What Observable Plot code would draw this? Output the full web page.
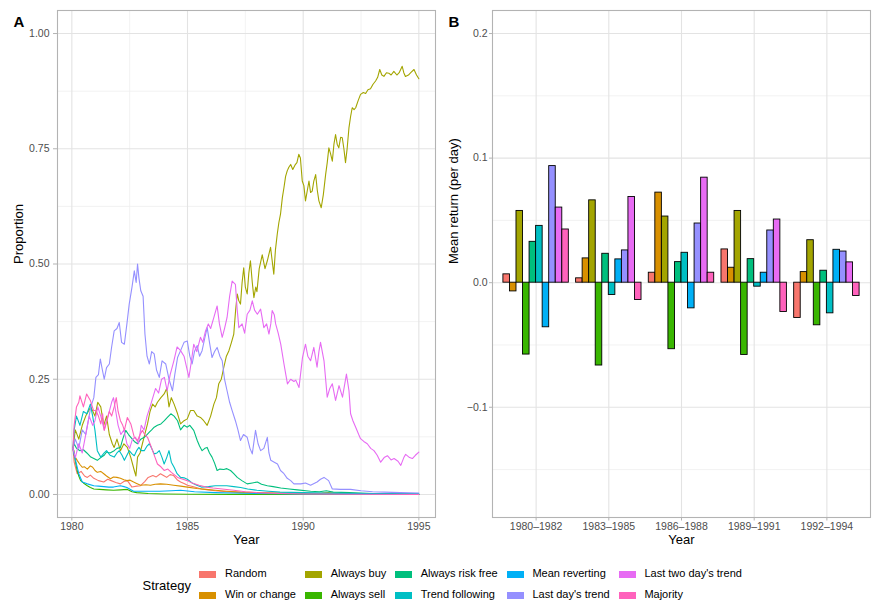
<!DOCTYPE html>
<html>
<head>
<meta charset="utf-8">
<script src="https://cdn.jsdelivr.net/npm/d3@7"></script>
<script src="https://cdn.jsdelivr.net/npm/@observablehq/plot@0.6"></script>
<style>
  body { margin: 0; background: #fff; font-family: "Liberation Sans", Arial, sans-serif; }
  #wrap { position: relative; width: 875px; height: 606px; overflow: hidden; background: #fff; }
  #pa { position: absolute; left: 0; top: 0; }
  #pb { position: absolute; left: 440px; top: 0; }
  .lg-title { position: absolute; font-size: 13px; color: #000; line-height: 13px; }
  .lg-key { position: absolute; width: 17px; height: 7px; }
  .lg-text { position: absolute; font-size: 11px; color: #000; line-height: 11px; white-space: nowrap; }
</style>
</head>
<body>
<div id="wrap">
  <div id="pa"></div>
  <div id="pb"></div>
</div>
<script>
// ---------- Categories ----------
const strategies = ["Random", "Win or change", "Always buy", "Always sell", "Always risk free",
  "Trend following", "Mean reverting", "Last day's trend", "Last two day's trend", "Majority"];
const strategyColors = ["#F8766D", "#D89000", "#A3A500", "#39B600", "#00BF7D",
  "#00BFC4", "#00B0F6", "#9590FF", "#E76BF3", "#FF62BC"];
const periods = ["1980\u20131982", "1983\u20131985", "1986\u20131988", "1989\u20131991", "1992\u20131994"];

// ---------- Panel A: proportion over time, [year, proportion] ----------
const propRandom = [[1980.05,0.10],[1980.1,0.07],[1980.23,0.045],[1980.4,0.05],[1980.55,0.04],[1980.67,0.037],[1980.8,0.042],[1980.95,0.035],[1981.15,0.03],[1981.38,0.027],[1981.55,0.033],[1981.7,0.03],[1981.9,0.026],[1982.1,0.023],[1982.25,0.028],[1982.4,0.03],[1982.6,0.016],[1982.8,0.018],[1982.97,0.019],[1983.15,0.028],[1983.3,0.037],[1983.5,0.041],[1983.65,0.038],[1983.83,0.045],[1984.0,0.04],[1984.1,0.037],[1984.25,0.043],[1984.4,0.041],[1984.55,0.032],[1984.7,0.027],[1984.85,0.024],[1985.0,0.02],[1985.3,0.016],[1985.6,0.012],[1985.9,0.01],[1986.2,0.008],[1986.7,0.006],[1987.3,0.004],[1988.0,0.003],[1989.0,0.002],[1990.0,0.0015],[1992.0,0.001],[1995.0,0.0005]];
const propWinOrChange = [[1980.05,0.10],[1980.1,0.085],[1980.23,0.074],[1980.35,0.065],[1980.45,0.059],[1980.55,0.06],[1980.67,0.055],[1980.8,0.062],[1980.9,0.059],[1981.0,0.052],[1981.1,0.048],[1981.25,0.05],[1981.38,0.045],[1981.5,0.04],[1981.67,0.034],[1981.8,0.038],[1981.95,0.037],[1982.1,0.035],[1982.25,0.032],[1982.38,0.03],[1982.52,0.031],[1982.67,0.027],[1982.8,0.024],[1982.97,0.02],[1983.2,0.021],[1983.4,0.02],[1983.6,0.022],[1983.83,0.023],[1984.1,0.022],[1984.4,0.02],[1984.7,0.018],[1985.0,0.016],[1985.4,0.013],[1985.8,0.011],[1986.2,0.009],[1986.7,0.007],[1987.3,0.005],[1988.0,0.004],[1989.0,0.003],[1990.0,0.002],[1990.8,0.003],[1991.1,0.004],[1991.5,0.002],[1993.0,0.001],[1995.0,0.0005]];
const propAlwaysBuy = [[1980.05,0.10],[1980.15,0.14],[1980.3,0.12],[1980.45,0.15],[1980.6,0.17],[1980.82,0.19],[1981.0,0.17],[1981.12,0.20],[1981.25,0.19],[1981.38,0.15],[1981.5,0.17],[1981.62,0.13],[1981.75,0.11],[1981.83,0.102],[1981.95,0.12],[1982.1,0.095],[1982.25,0.11],[1982.4,0.102],[1982.55,0.08],[1982.7,0.052],[1982.77,0.04],[1982.84,0.081],[1982.95,0.09],[1983.05,0.11],[1983.15,0.13],[1983.27,0.153],[1983.38,0.18],[1983.49,0.196],[1983.6,0.19],[1983.7,0.2],[1983.85,0.21],[1983.99,0.218],[1984.1,0.23],[1984.2,0.19],[1984.3,0.21],[1984.42,0.196],[1984.57,0.175],[1984.7,0.153],[1984.85,0.16],[1984.99,0.164],[1985.13,0.182],[1985.27,0.182],[1985.42,0.17],[1985.56,0.167],[1985.7,0.16],[1985.85,0.15],[1986.0,0.17],[1986.14,0.196],[1986.25,0.21],[1986.35,0.24],[1986.46,0.25],[1986.57,0.276],[1986.68,0.30],[1986.79,0.312],[1986.9,0.33],[1987.0,0.348],[1987.08,0.40],[1987.15,0.435],[1987.22,0.42],[1987.29,0.413],[1987.36,0.46],[1987.43,0.492],[1987.5,0.45],[1987.58,0.435],[1987.65,0.48],[1987.72,0.507],[1987.8,0.46],[1987.87,0.427],[1987.95,0.45],[1988.0,0.44],[1988.1,0.49],[1988.23,0.52],[1988.35,0.49],[1988.45,0.507],[1988.59,0.536],[1988.73,0.478],[1988.8,0.53],[1988.88,0.565],[1988.95,0.59],[1989.02,0.608],[1989.1,0.644],[1989.17,0.666],[1989.24,0.69],[1989.31,0.702],[1989.38,0.71],[1989.46,0.716],[1989.55,0.705],[1989.65,0.715],[1989.73,0.72],[1989.81,0.738],[1989.88,0.73],[1989.96,0.68],[1990.03,0.67],[1990.1,0.637],[1990.18,0.66],[1990.25,0.68],[1990.32,0.655],[1990.39,0.658],[1990.46,0.68],[1990.54,0.694],[1990.61,0.66],[1990.68,0.637],[1990.78,0.622],[1990.87,0.65],[1990.97,0.694],[1991.04,0.72],[1991.11,0.752],[1991.18,0.74],[1991.26,0.723],[1991.33,0.76],[1991.4,0.781],[1991.47,0.76],[1991.54,0.752],[1991.62,0.775],[1991.69,0.774],[1991.76,0.75],[1991.83,0.72],[1991.9,0.75],[1991.98,0.796],[1992.05,0.82],[1992.12,0.839],[1992.2,0.835],[1992.27,0.839],[1992.38,0.855],[1992.48,0.868],[1992.6,0.872],[1992.7,0.87],[1992.8,0.878],[1992.91,0.88],[1993.02,0.89],[1993.13,0.897],[1993.22,0.905],[1993.31,0.922],[1993.4,0.91],[1993.49,0.907],[1993.6,0.915],[1993.7,0.914],[1993.8,0.91],[1993.92,0.918],[1994.05,0.91],[1994.15,0.915],[1994.28,0.929],[1994.35,0.915],[1994.42,0.907],[1994.55,0.91],[1994.65,0.915],[1994.79,0.922],[1994.9,0.91],[1995.0,0.902]];
const propAlwaysSell = [[1980.05,0.10],[1980.09,0.095],[1980.16,0.07],[1980.23,0.052],[1980.3,0.04],[1980.38,0.03],[1980.5,0.025],[1980.67,0.019],[1980.8,0.015],[1980.95,0.012],[1981.2,0.011],[1981.5,0.01],[1981.8,0.009],[1982.1,0.01],[1982.4,0.011],[1982.6,0.006],[1982.8,0.004],[1983.3,0.002],[1984.0,0.001],[1985.0,0.0005],[1987.0,0.0002],[1995.0,0.0]];
const propAlwaysRiskFree = [[1980.05,0.10],[1980.1,0.11],[1980.2,0.10],[1980.35,0.095],[1980.5,0.097],[1980.65,0.09],[1980.82,0.081],[1980.95,0.078],[1981.1,0.074],[1981.25,0.08],[1981.4,0.085],[1981.5,0.092],[1981.65,0.09],[1981.83,0.095],[1981.95,0.10],[1982.1,0.102],[1982.2,0.12],[1982.33,0.139],[1982.45,0.13],[1982.55,0.124],[1982.7,0.115],[1982.84,0.11],[1982.98,0.12],[1983.13,0.124],[1983.25,0.13],[1983.35,0.135],[1983.45,0.14],[1983.56,0.146],[1983.7,0.15],[1983.85,0.153],[1984.0,0.16],[1984.13,0.167],[1984.28,0.175],[1984.42,0.17],[1984.57,0.16],[1984.7,0.14],[1984.85,0.15],[1984.99,0.146],[1985.1,0.15],[1985.27,0.139],[1985.42,0.117],[1985.52,0.105],[1985.63,0.095],[1985.75,0.10],[1985.85,0.102],[1985.95,0.09],[1986.06,0.081],[1986.17,0.068],[1986.28,0.052],[1986.4,0.055],[1986.57,0.054],[1986.7,0.056],[1986.86,0.052],[1987.0,0.045],[1987.15,0.037],[1987.35,0.03],[1987.58,0.023],[1987.8,0.025],[1988.02,0.027],[1988.2,0.022],[1988.45,0.019],[1988.7,0.017],[1989.03,0.014],[1989.4,0.012],[1989.75,0.01],[1990.32,0.007],[1990.7,0.006],[1991.0,0.008],[1991.3,0.005],[1992.0,0.004],[1993.0,0.002],[1994.0,0.0015],[1995.0,0.001]];
const propTrendFollowing = [[1980.05,0.10],[1980.1,0.14],[1980.2,0.17],[1980.35,0.15],[1980.5,0.18],[1980.65,0.175],[1980.8,0.196],[1980.9,0.17],[1981.0,0.139],[1981.1,0.095],[1981.25,0.081],[1981.4,0.09],[1981.5,0.095],[1981.65,0.085],[1981.83,0.081],[1981.95,0.09],[1982.05,0.095],[1982.17,0.085],[1982.27,0.074],[1982.38,0.085],[1982.48,0.095],[1982.6,0.088],[1982.7,0.084],[1982.8,0.095],[1982.9,0.102],[1983.0,0.095],[1983.13,0.095],[1983.25,0.105],[1983.35,0.11],[1983.45,0.10],[1983.56,0.088],[1983.68,0.09],[1983.78,0.095],[1983.9,0.08],[1983.99,0.066],[1984.1,0.08],[1984.2,0.095],[1984.3,0.07],[1984.42,0.059],[1984.55,0.045],[1984.7,0.037],[1984.85,0.036],[1984.99,0.033],[1985.2,0.025],[1985.4,0.02],[1985.6,0.016],[1985.9,0.017],[1986.2,0.019],[1986.7,0.019],[1987.0,0.017],[1987.3,0.015],[1987.6,0.012],[1988.0,0.009],[1988.5,0.007],[1989.0,0.005],[1990.0,0.004],[1991.0,0.003],[1992.0,0.002],[1993.0,0.0015],[1995.0,0.001]];
const propMeanReverting = [[1980.05,0.10],[1980.08,0.09],[1980.16,0.074],[1980.3,0.045],[1980.45,0.027],[1980.67,0.023],[1980.95,0.019],[1981.15,0.018],[1981.38,0.017],[1981.6,0.016],[1981.8,0.016],[1982.1,0.019],[1982.25,0.017],[1982.38,0.015],[1982.67,0.007],[1983.2,0.007],[1983.8,0.007],[1984.3,0.008],[1984.7,0.009],[1985.3,0.006],[1986.2,0.004],[1987.0,0.003],[1988.0,0.002],[1990.0,0.001],[1995.0,0.0005]];
const propLastDayTrend = [[1980.05,0.10],[1980.15,0.12],[1980.3,0.10],[1980.45,0.14],[1980.6,0.13],[1980.82,0.19],[1980.95,0.21],[1981.04,0.254],[1981.15,0.26],[1981.23,0.294],[1981.32,0.27],[1981.4,0.25],[1981.5,0.275],[1981.62,0.283],[1981.72,0.32],[1981.83,0.355],[1981.95,0.36],[1982.05,0.373],[1982.15,0.33],[1982.27,0.326],[1982.38,0.37],[1982.48,0.413],[1982.6,0.45],[1982.7,0.485],[1982.78,0.46],[1982.84,0.50],[1982.9,0.47],[1982.98,0.442],[1983.08,0.43],[1983.16,0.348],[1983.25,0.30],[1983.35,0.283],[1983.45,0.31],[1983.56,0.305],[1983.66,0.27],[1983.78,0.254],[1983.9,0.29],[1984.06,0.283],[1984.2,0.25],[1984.35,0.225],[1984.45,0.26],[1984.57,0.297],[1984.7,0.312],[1984.85,0.33],[1984.99,0.333],[1985.1,0.30],[1985.2,0.283],[1985.3,0.31],[1985.42,0.323],[1985.52,0.30],[1985.63,0.312],[1985.75,0.34],[1985.85,0.362],[1985.95,0.33],[1986.06,0.297],[1986.17,0.31],[1986.28,0.319],[1986.4,0.30],[1986.5,0.29],[1986.6,0.25],[1986.71,0.225],[1986.82,0.20],[1986.93,0.182],[1987.07,0.16],[1987.18,0.14],[1987.29,0.117],[1987.42,0.13],[1987.58,0.124],[1987.7,0.10],[1987.8,0.088],[1987.94,0.139],[1988.05,0.11],[1988.16,0.095],[1988.3,0.10],[1988.45,0.124],[1988.52,0.09],[1988.6,0.074],[1988.75,0.07],[1988.89,0.066],[1989.02,0.052],[1989.17,0.045],[1989.31,0.035],[1989.46,0.03],[1989.6,0.023],[1989.9,0.023],[1990.1,0.025],[1990.32,0.02],[1990.6,0.027],[1990.75,0.033],[1990.9,0.037],[1991.1,0.03],[1991.26,0.012],[1991.6,0.011],[1992.05,0.011],[1992.5,0.008],[1993.0,0.006],[1993.5,0.005],[1994.2,0.004],[1995.0,0.003]];
const propLastTwoDayTrend = [[1980.05,0.10],[1980.15,0.08],[1980.3,0.11],[1980.45,0.09],[1980.6,0.13],[1980.75,0.17],[1980.9,0.15],[1981.0,0.16],[1981.12,0.19],[1981.25,0.17],[1981.4,0.14],[1981.5,0.16],[1981.62,0.18],[1981.72,0.20],[1981.8,0.21],[1981.9,0.18],[1982.0,0.15],[1982.12,0.13],[1982.25,0.14],[1982.38,0.11],[1982.5,0.10],[1982.62,0.12],[1982.75,0.124],[1982.88,0.11],[1983.0,0.15],[1983.12,0.14],[1983.25,0.17],[1983.38,0.19],[1983.5,0.21],[1983.62,0.23],[1983.75,0.22],[1983.88,0.25],[1984.0,0.254],[1984.12,0.225],[1984.25,0.26],[1984.41,0.29],[1984.55,0.32],[1984.7,0.312],[1984.85,0.30],[1985.06,0.254],[1985.15,0.283],[1985.27,0.326],[1985.4,0.31],[1985.56,0.341],[1985.66,0.33],[1985.78,0.355],[1985.9,0.37],[1986.0,0.36],[1986.14,0.384],[1986.28,0.409],[1986.38,0.37],[1986.5,0.341],[1986.6,0.36],[1986.71,0.384],[1986.82,0.43],[1986.93,0.463],[1987.07,0.456],[1987.15,0.40],[1987.22,0.362],[1987.36,0.37],[1987.47,0.35],[1987.58,0.391],[1987.7,0.40],[1987.8,0.42],[1987.9,0.40],[1988.02,0.391],[1988.16,0.402],[1988.3,0.362],[1988.42,0.37],[1988.52,0.348],[1988.6,0.37],[1988.66,0.399],[1988.75,0.39],[1988.81,0.37],[1988.92,0.35],[1989.03,0.326],[1989.17,0.283],[1989.25,0.26],[1989.32,0.24],[1989.46,0.25],[1989.6,0.245],[1989.68,0.248],[1989.82,0.232],[1989.97,0.297],[1990.1,0.326],[1990.2,0.30],[1990.32,0.29],[1990.46,0.319],[1990.6,0.276],[1990.68,0.31],[1990.75,0.33],[1990.9,0.29],[1991.04,0.211],[1991.15,0.23],[1991.26,0.24],[1991.4,0.204],[1991.55,0.236],[1991.7,0.211],[1991.87,0.261],[1991.98,0.225],[1992.05,0.175],[1992.15,0.16],[1992.27,0.146],[1992.4,0.13],[1992.48,0.121],[1992.62,0.115],[1992.77,0.11],[1992.92,0.10],[1993.06,0.095],[1993.2,0.085],[1993.35,0.07],[1993.5,0.08],[1993.64,0.084],[1993.8,0.075],[1993.93,0.078],[1994.1,0.072],[1994.22,0.063],[1994.35,0.08],[1994.43,0.087],[1994.6,0.08],[1994.72,0.078],[1994.85,0.085],[1995.0,0.092]];
const propMajority = [[1980.05,0.10],[1980.1,0.15],[1980.2,0.19],[1980.3,0.2],[1980.35,0.214],[1980.5,0.19],[1980.64,0.218],[1980.8,0.204],[1980.94,0.182],[1981.04,0.182],[1981.15,0.17],[1981.25,0.153],[1981.33,0.175],[1981.4,0.139],[1981.52,0.16],[1981.62,0.18],[1981.72,0.17],[1981.83,0.19],[1981.92,0.21],[1982.0,0.18],[1982.1,0.16],[1982.2,0.15],[1982.27,0.139],[1982.4,0.167],[1982.55,0.153],[1982.7,0.124],[1982.84,0.117],[1982.95,0.13],[1983.05,0.139],[1983.15,0.13],[1983.27,0.124],[1983.38,0.11],[1983.49,0.095],[1983.6,0.08],[1983.7,0.066],[1983.85,0.06],[1983.99,0.052],[1984.15,0.055],[1984.3,0.048],[1984.45,0.042],[1984.57,0.037],[1984.8,0.033],[1984.99,0.03],[1985.2,0.025],[1985.5,0.02],[1985.8,0.016],[1986.1,0.014],[1986.5,0.012],[1987.0,0.009],[1987.5,0.006],[1988.0,0.004],[1989.0,0.002],[1990.0,0.001],[1992.0,0.0005],[1995.0,0.0]];

// ---------- Panel B: mean return per day by period (one value per period) ----------
const retRandom          = [0.0067, 0.0035, 0.0080, 0.0267, -0.0283];
const retWinOrChange     = [-0.0070, 0.0195, 0.0723, 0.0120, 0.0085];
const retAlwaysBuy       = [0.0576, 0.0661, 0.0531, 0.0576, 0.0341];
const retAlwaysSell      = [-0.0577, -0.0665, -0.0534, -0.0580, -0.0342];
const retAlwaysRiskFree  = [0.0328, 0.0232, 0.0165, 0.0189, 0.0096];
const retTrendFollowing  = [0.0456, -0.0099, 0.0240, -0.0032, -0.0246];
const retMeanReverting   = [-0.0358, 0.0187, -0.0206, 0.0080, 0.0264];
const retLastDayTrend    = [0.0936, 0.0259, 0.0475, 0.0419, 0.0250];
const retLastTwoDayTrend = [0.0603, 0.0688, 0.0843, 0.0507, 0.0163];
const retMajority        = [0.0427, -0.0139, 0.0080, -0.0235, -0.0107];

// ---------- Axis ticks ----------
const yearTicks = [1980, 1985, 1990, 1995];
const yearMinor = [1982.5, 1987.5, 1992.5];
const propTicks = [0, 0.25, 0.5, 0.75, 1];
const propMinor = [0.125, 0.375, 0.625, 0.875];
const retTicks = [-0.1, 0, 0.1, 0.2];
const retMinor = [-0.15, -0.05, 0.05, 0.15];

// ---------- Build tables ----------
const propSeries = [propRandom, propWinOrChange, propAlwaysBuy, propAlwaysSell, propAlwaysRiskFree,
  propTrendFollowing, propMeanReverting, propLastDayTrend, propLastTwoDayTrend, propMajority];
const retSeries = [retRandom, retWinOrChange, retAlwaysBuy, retAlwaysSell, retAlwaysRiskFree,
  retTrendFollowing, retMeanReverting, retLastDayTrend, retLastTwoDayTrend, retMajority];

const propRows = [];
strategies.forEach((s, i) => propSeries[i].forEach(([year, value]) => propRows.push({strategy: s, year, value})));
const retRows = [];
strategies.forEach((s, i) => retSeries[i].forEach((value, j) => retRows.push({strategy: s, period: periods[j], value})));

const FONT = "'Liberation Sans', Arial, Helvetica, sans-serif";
const GRID_MAJOR = "#E3E3E3", GRID_MINOR = "#EFEFEF", BORDER = "#B3B3B3", TICK_TEXT = "#4D4D4D";

// ---------- Panel A ----------
const plotA = Plot.plot({
  width: 440, height: 550,
  marginLeft: 57, marginRight: 5, marginTop: 10, marginBottom: 33,
  style: {fontFamily: FONT, fontSize: "10px", background: "white", color: "black"},
  x: {domain: [1979.38, 1995.72]},
  y: {domain: [-0.05, 1.05]},
  color: {domain: strategies, range: strategyColors},
  marks: [
    Plot.ruleX(yearMinor, {stroke: GRID_MINOR, strokeWidth: 0.8}),
    Plot.ruleY(propMinor, {stroke: GRID_MINOR, strokeWidth: 0.8}),
    Plot.ruleX(yearTicks, {stroke: GRID_MAJOR, strokeWidth: 1.1}),
    Plot.ruleY(propTicks, {stroke: GRID_MAJOR, strokeWidth: 1.1}),
    Plot.line(propRows, {x: "year", y: "value", z: "strategy", stroke: "strategy", strokeWidth: 1.1}),
    Plot.frame({stroke: BORDER, strokeWidth: 1.1}),
    Plot.axisX({ticks: yearTicks, tickSize: 3.5, tickPadding: 2, stroke: BORDER, fill: TICK_TEXT, fontSize: 10.5, label: null, tickFormat: d => String(d)}),
    Plot.axisY({ticks: propTicks, tickSize: 4, tickPadding: 4, stroke: BORDER, fill: TICK_TEXT, fontSize: 10.5, label: null, tickFormat: d3.format(".2f")}),
    Plot.text(["Year"], {text: d => d, frameAnchor: "bottom", dy: 26, fontSize: 13, fill: "black"}),
    Plot.text(["Proportion"], {text: d => d, frameAnchor: "left", dx: -39, rotate: -90, fontSize: 13, fill: "black"}),
    Plot.text(["A"], {text: d => d, frameAnchor: "top-left", dx: -44, dy: 6, textAnchor: "start", fontSize: 15, fontWeight: "bold", fill: "black"})
  ]
});
document.getElementById("pa").appendChild(plotA);

// ---------- Panel B ----------
const bw = (435 - 52 - 5) / (periods.length - 0.1 + 2 * 0.15) * 0.9;
const slot = bw / strategies.length;
const plotB = Plot.plot({
  width: 435, height: 550,
  marginLeft: 52, marginRight: 5, marginTop: 10, marginBottom: 33,
  style: {fontFamily: FONT, fontSize: "10px", background: "white", color: "black"},
  x: {type: "band", domain: periods, paddingInner: 0.1, paddingOuter: 0.15, round: false},
  y: {domain: [-0.1885, 0.2185]},
  marks: [
    Plot.ruleY(retMinor, {stroke: GRID_MINOR, strokeWidth: 0.8}),
    Plot.ruleY(retTicks, {stroke: GRID_MAJOR, strokeWidth: 1.1}),
    Plot.ruleX(periods, {x: d => d, stroke: GRID_MAJOR, strokeWidth: 1.1}),
    ...strategies.map((s, i) => Plot.barY(retRows.filter(d => d.strategy === s), {
      x: "period", y: "value", fill: strategyColors[i], stroke: "black", strokeWidth: 0.9,
      insetLeft: i * slot, insetRight: (strategies.length - 1 - i) * slot
    })),
    Plot.frame({stroke: BORDER, strokeWidth: 1.1}),
    Plot.axisX({tickSize: 3.5, tickPadding: 2, stroke: BORDER, fill: TICK_TEXT, fontSize: 10.5, label: null}),
    Plot.axisY({ticks: retTicks, tickSize: 3, tickPadding: 2, stroke: BORDER, fill: TICK_TEXT, fontSize: 10.5, label: null, tickFormat: d3.format(".1f")}),
    Plot.text(["Year"], {text: d => d, frameAnchor: "bottom", dy: 26, fontSize: 13, fill: "black"}),
    Plot.text(["Mean return (per day)"], {text: d => d, frameAnchor: "left", dx: -38.5, rotate: -90, fontSize: 13, fill: "black"}),
    Plot.text(["B"], {text: d => d, frameAnchor: "top-left", dx: -44, dy: 6, textAnchor: "start", fontSize: 15, fontWeight: "bold", fill: "black"})
  ]
});
document.getElementById("pb").appendChild(plotB);

// ---------- Legend ----------
const wrap = document.getElementById("wrap");
const lgTitle = document.createElement("div");
lgTitle.className = "lg-title";
lgTitle.textContent = "Strategy";
lgTitle.style.left = "142.5px";
lgTitle.style.top = (586 - 7) + "px";
wrap.appendChild(lgTitle);
const colX = [199.3, 305, 395, 506.7, 618.7];
const rowY = [574.3, 595.2];
strategies.forEach((s, i) => {
  const c = Math.floor(i / 2), r = i % 2;
  const key = document.createElement("div");
  key.className = "lg-key";
  key.style.background = strategyColors[i];
  key.style.left = colX[c] + "px";
  key.style.top = (rowY[r] - 3.5) + "px";
  wrap.appendChild(key);
  const t = document.createElement("div");
  t.className = "lg-text";
  t.textContent = s;
  t.style.left = (colX[c] + 25.7) + "px";
  t.style.top = (rowY[r] - 6) + "px";
  wrap.appendChild(t);
});
</script>
</body>
</html>
